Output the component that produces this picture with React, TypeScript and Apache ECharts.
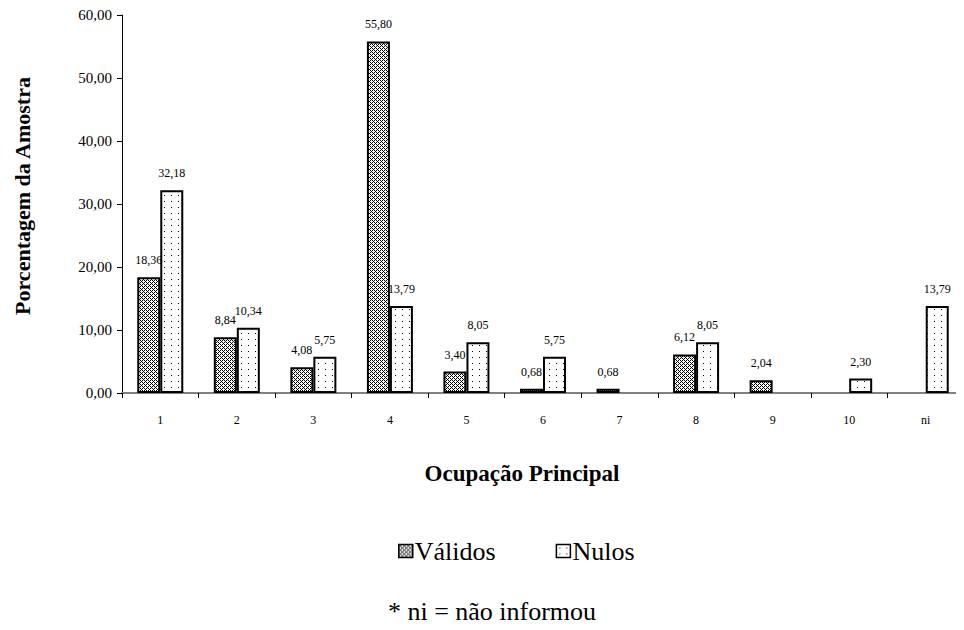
import React, { useEffect, useRef } from "react";
import * as echarts from "echarts";

const categories = ["1", "2", "3", "4", "5", "6", "7", "8", "9", "10", "ni"];
const validos: (number | null)[] = [18.36, 8.84, 4.08, 55.8, 3.4, 0.68, 0.68, 6.12, 2.04, null, null];
const nulos: (number | null)[] = [32.18, 10.34, 5.75, 13.79, 8.05, 5.75, null, 8.05, null, 2.3, 13.79];
const seriesNames = ["Válidos", "Nulos"];
const yTitle = "Porcentagem da Amostra";
const xTitle = "Ocupação Principal";
const footnote = "* ni = não informou";

const FONT = "Liberation Serif";

function makePattern(w: number, h: number, pixels: [number, number][]) {
  const c = document.createElement("canvas");
  c.width = w;
  c.height = h;
  const ctx = c.getContext("2d")!;
  ctx.fillStyle = "#ffffff";
  ctx.fillRect(0, 0, w, h);
  ctx.fillStyle = "#000000";
  pixels.forEach(([x, y]) => ctx.fillRect(x, y, 1, 1));
  return { image: c, repeat: "repeat", imageWidth: w, imageHeight: h } as any;
}

const fmt = (v: number) => v.toFixed(2).replace(".", ",");

export default function App() {
  const ref = useRef<HTMLDivElement>(null);
  useEffect(() => {
    if (!ref.current) return;
    const chart = echarts.init(ref.current, null, { renderer: "svg" });
    const dense = makePattern(4, 4, [
      [0, 0], [2, 0], [1, 1], [0, 2], [2, 2], [3, 3],
    ]);
    const dots = makePattern(7, 6, [[3, 3]]);
    const labelCfg = {
      show: true,
      position: "top",
      distance: 11,
      fontFamily: FONT,
      fontSize: 12,
      color: "#000",
      formatter: (p: any) => (p.value == null ? "" : fmt(p.value)),
    };
    chart.setOption({
      animation: false,
      backgroundColor: "#ffffff",
      textStyle: { fontFamily: FONT, color: "#000" },
      grid: { left: 122, top: 15, width: 847, height: 378, containLabel: false },
      legend: {
        left: 393,
        top: 533,
        itemWidth: 14,
        itemHeight: 13,
        itemGap: 60,
        icon: "rect",
        itemStyle: { borderColor: "#000", borderWidth: 1.5 },
        textStyle: { fontFamily: FONT, fontSize: 26, color: "#000", padding: [0, 0, 0, -3] },
        data: seriesNames,
      },
      xAxis: {
        type: "category",
        data: categories,
        name: xTitle,
        nameLocation: "middle",
        nameGap: 69,
        nameTextStyle: {
          fontFamily: FONT,
          fontSize: 23,
          fontWeight: "bold",
          color: "#000",
          padding: [0, 42, 0, 0],
        },
        axisLine: { lineStyle: { color: "#808080", width: 2 } },
        axisTick: { show: true, length: 5, alignWithLabel: false, lineStyle: { color: "#000" } },
        axisLabel: { margin: 21, fontFamily: FONT, fontSize: 12, color: "#000" },
      },
      yAxis: {
        type: "value",
        min: 0,
        max: 60,
        interval: 10,
        name: yTitle,
        nameLocation: "middle",
        nameGap: 89,
        nameTextStyle: {
          fontFamily: FONT,
          fontSize: 22,
          fontWeight: "bold",
          color: "#000",
          padding: [0, 0, 0, 16],
        },
        axisLine: { show: true, lineStyle: { color: "#000", width: 1 } },
        axisTick: { show: true, length: 5, lineStyle: { color: "#000" } },
        splitLine: { show: false },
        axisLabel: { margin: 10, fontFamily: FONT, fontSize: 15, color: "#000", formatter: (v: number) => fmt(v) },
      },
      series: [
        {
          name: seriesNames[0],
          type: "bar",
          data: validos,
          barWidth: 23,
          barGap: "0%",
          itemStyle: { color: dense, borderColor: "#000", borderWidth: 2 },
          label: labelCfg,
        },
        {
          name: seriesNames[1],
          type: "bar",
          data: nulos,
          barWidth: 23,
          barGap: "0%",
          itemStyle: { color: dots, borderColor: "#000", borderWidth: 2 },
          label: labelCfg,
        },
      ],
      graphic: [
        {
          type: "text",
          x: 492,
          y: 611,
          style: {
            text: footnote,
            fontFamily: FONT,
            fontSize: 26,
            fill: "#000",
            align: "center",
            verticalAlign: "middle",
          },
        },
      ],
    });
    return () => chart.dispose();
  }, []);
  return <div ref={ref} style={{ width: 964, height: 630, marginTop: -8, marginLeft: -8 }} />;
}
